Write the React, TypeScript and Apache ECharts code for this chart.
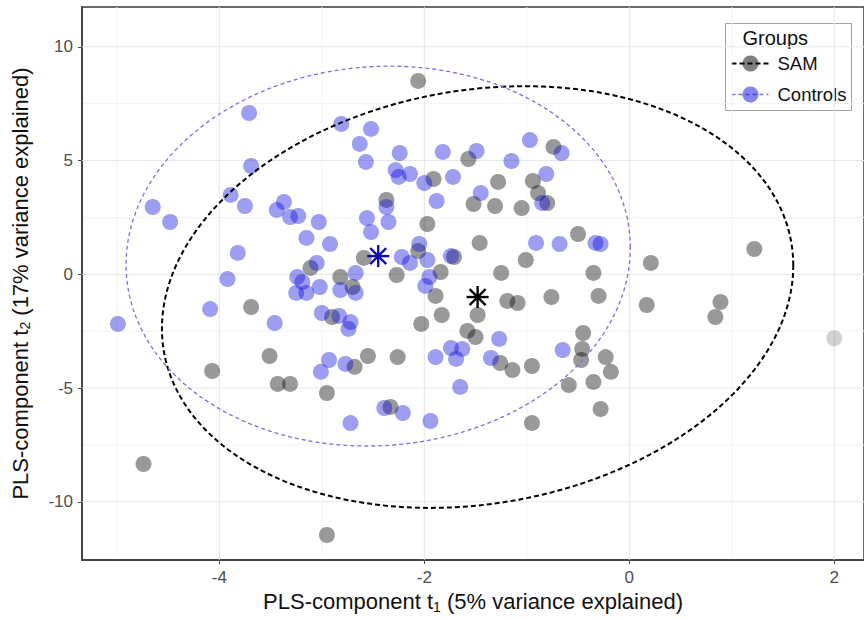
import React, { useEffect, useRef } from 'react';
import * as echarts from 'echarts';

// ---- Data ----
const samT1 = [
  -2.06, -1.57, -0.74, -1.28, -0.94, -0.89, -0.80, -1.52, -1.31, -1.05,
  -1.91, -2.37, -1.97, -1.46, -0.50, -1.01, -1.25, -1.84, -2.06, -2.59,
  -2.27, -2.82, -3.11, -2.70, -1.71, -1.19, -1.09, -0.76, -1.89, -1.83,
  -2.03, -1.48, -1.58, -1.50, -2.90, -2.55, -2.26, -2.68, -2.95, -2.33,
  -1.26, -1.14, -0.95, -0.95, -0.59, -0.35, -0.30, -0.45, -0.46, -0.47,
  -0.23, -0.18, -0.35, -0.28, 0.21, 0.17, 0.89, 0.84, 1.22, -3.69,
  -3.51, -4.07, -3.43, -3.31, -4.74, -2.95,
];
const samT2 = [
  8.50, 5.07, 5.60, 4.06, 4.10, 3.57, 3.13, 3.09, 3.00, 2.91,
  4.19, 3.27, 2.21, 1.38, 1.77, 0.63, 0.06, 0.10, 1.02, 0.72,
  -0.03, -0.12, 0.28, -0.56, 0.76, -1.17, -1.26, -1.00, -0.95, -1.79,
  -2.18, -1.79, -2.49, -2.76, -1.88, -3.59, -3.64, -4.07, -5.22, -5.83,
  -3.90, -4.21, -4.03, -6.54, -4.87, 0.06, -0.95, -2.58, -3.28, -3.77,
  -3.64, -4.29, -4.73, -5.92, 0.50, -1.35, -1.22, -1.88, 1.11, -1.44,
  -3.59, -4.25, -4.82, -4.82, -8.34, -11.46,
];
const controlsT1 = [
  -4.99, -4.65, -4.48, -3.71, -3.69, -3.89, -3.75, -3.44, -3.37, -3.31,
  -3.23, -3.15, -3.82, -3.92, -4.09, -3.46, -3.24, -3.19, -3.25, -3.15,
  -3.05, -3.02, -2.82, -2.67, -2.67, -3.03, -2.92, -2.81, -2.52, -2.63,
  -2.57, -2.24, -2.28, -2.25, -2.14, -2.00, -1.82, -1.72, -1.88, -1.49,
  -1.45, -0.97, -1.15, -0.66, -0.81, -0.85, -0.91, -0.68, -0.33, -0.28,
  -2.37, -2.35, -2.56, -2.52, -2.05, -2.22, -2.14, -1.97, -1.74, -1.95,
  -1.99, -3.00, -2.83, -2.72, -2.74, -2.93, -3.01, -2.77, -1.89, -1.74,
  -1.63, -1.69, -1.65, -1.94, -2.21, -2.39, -2.72, -1.27, -1.35, -0.65,
];
const controlsT2 = [
  -2.18, 2.96, 2.30, 7.09, 4.76, 3.49, 3.00, 2.83, 3.18, 2.52,
  2.56, 1.60, 0.94, -0.21, -1.53, -2.14, -0.12, -0.34, -0.82, -0.82,
  0.50, -0.56, -0.69, -0.82, 0.06, 2.30, 1.33, 6.61, 6.39, 5.73,
  4.94, 5.33, 4.58, 4.28, 4.41, 4.01, 5.38, 4.28, 3.22, 5.42,
  3.57, 5.90, 4.98, 5.33, 4.41, 3.13, 1.38, 1.33, 1.38, 1.33,
  2.96, 2.30, 2.47, 1.86, 1.33, 0.76, 0.50, 0.63, 0.80, -0.12,
  -0.51, -1.70, -1.83, -2.10, -2.40, -3.77, -4.29, -3.94, -3.64, -3.24,
  -3.28, -3.72, -4.95, -6.45, -6.10, -5.88, -6.54, -2.84, -3.68, -3.33,
];
// one faint point not assigned to either group
const otherT1 = [2.0];
const otherT2 = [-2.81];

// group centroids (asterisks)
const samCentroid = [-1.48, -1.0];
const controlsCentroid = [-2.45, 0.8];

// 95% ellipse parameters: [centre t1, centre t2, half-width, half-height, phase]
const samEllipse = [-1.48, -1.0, 3.08, 9.27, 1.421];
const controlsEllipse = [-2.45, 0.8, 2.46, 8.35, 1.526];

// axes
const xTicks = [-4, -2, 0, 2];
const yTicks = [-10, -5, 0, 5, 10];
const xMinorGrid = [-5, -3, -1, 1];
const yMinorGrid = [-7.5, -2.5, 2.5, 7.5];
const X_MIN = -5.34;
const X_MAX = 2.29;
const Y_MIN = -12.56;
const Y_MAX = 11.75;

const FONT = '"Liberation Sans", Arial, Helvetica, sans-serif';

const zip = (a: number[], b: number[]) => a.map((v, i) => [v, b[i]]);

function vLines(values: number[], color: string, width: number, z: number) {
  return {
    type: 'custom',
    silent: true,
    z,
    data: values.map((v) => [v, 0]),
    renderItem: (_p: any, api: any) => {
      const v = api.value(0);
      const a = api.coord([v, Y_MIN]);
      const b = api.coord([v, Y_MAX]);
      return { type: 'line', shape: { x1: a[0], y1: a[1], x2: b[0], y2: b[1] }, style: { stroke: color, lineWidth: width } };
    },
  };
}
function hLines(values: number[], color: string, width: number, z: number) {
  return {
    type: 'custom',
    silent: true,
    z,
    data: values.map((v) => [0, v]),
    renderItem: (_p: any, api: any) => {
      const v = api.value(1);
      const a = api.coord([X_MIN, v]);
      const b = api.coord([X_MAX, v]);
      return { type: 'line', shape: { x1: a[0], y1: a[1], x2: b[0], y2: b[1] }, style: { stroke: color, lineWidth: width } };
    },
  };
}
function ellipseSeries(p: number[], color: string, width: number, dash: number[]) {
  return {
    type: 'custom',
    silent: true,
    z: 5,
    data: [[p[0], p[1]]],
    renderItem: (_q: any, api: any) => {
      const [cx, cy, rx, ry, ph] = p;
      const pts: number[][] = [];
      const N = 240;
      for (let i = 0; i <= N; i++) {
        const t = (2 * Math.PI * i) / N;
        pts.push(api.coord([cx + rx * Math.cos(t), cy + ry * Math.cos(t - ph)]));
      }
      return { type: 'polyline', shape: { points: pts }, style: { stroke: color, lineWidth: width, lineDash: dash, fill: 'none' } };
    },
  };
}
function asteriskSeries(c: number[], color: string) {
  return {
    type: 'custom',
    silent: true,
    z: 6,
    data: [c],
    renderItem: (_q: any, api: any) => {
      const p = api.coord([api.value(0), api.value(1)]);
      const r = 11;
      const d = 8;
      const st = { stroke: color, lineWidth: 2.4 };
      return {
        type: 'group',
        children: [
          { type: 'line', shape: { x1: p[0], y1: p[1] - r, x2: p[0], y2: p[1] + r }, style: st },
          { type: 'line', shape: { x1: p[0] - r, y1: p[1], x2: p[0] + r, y2: p[1] }, style: st },
          { type: 'line', shape: { x1: p[0] - d, y1: p[1] - d, x2: p[0] + d, y2: p[1] + d }, style: st },
          { type: 'line', shape: { x1: p[0] - d, y1: p[1] + d, x2: p[0] + d, y2: p[1] - d }, style: st },
        ],
      };
    },
  };
}

const SAM_FILL = 'rgba(0,0,0,0.5)';
const CTRL_FILL = 'rgba(10,10,220,0.5)';
const CTRL_LINE = '#7b6fe8';

export default function App() {
  const ref = useRef<HTMLDivElement>(null);
  useEffect(() => {
    document.body.style.margin = '0';
    const chart = echarts.init(ref.current!, null, { renderer: 'svg' });
    const titleStyle = {
      fontSize: 22,
      color: '#111',
      fontFamily: FONT,
      rich: { sub: { fontSize: 14, color: '#111', fontFamily: FONT, padding: [10, 0, 0, 0] } },
    };
    chart.setOption({
      animation: false,
      backgroundColor: '#fff',
      grid: { left: 82, top: 7, right: -2, bottom: 59, show: true, borderColor: '#3a3a3a', borderWidth: 1.5, backgroundColor: '#fff' },
      xAxis: {
        type: 'value',
        min: X_MIN,
        max: X_MAX,
        splitLine: { show: false },
        axisLine: { show: true, onZero: false, lineStyle: { color: '#444', width: 2 } },
        axisTick: { show: true, length: 4, customValues: xTicks, lineStyle: { color: '#444' } },
        axisLabel: { customValues: xTicks, fontSize: 17, color: '#4d4d4d', fontFamily: FONT, margin: 9 },
        name: 'PLS-component t{sub|1} (5% variance explained)',
        nameLocation: 'middle',
        nameGap: 28,
        nameTextStyle: titleStyle,
      },
      yAxis: {
        type: 'value',
        min: Y_MIN,
        max: Y_MAX,
        splitLine: { show: false },
        axisLine: { show: true, onZero: false, lineStyle: { color: '#444', width: 2 } },
        axisTick: { show: true, length: 4, customValues: yTicks, lineStyle: { color: '#444' } },
        axisLabel: { customValues: yTicks, fontSize: 17, color: '#4d4d4d', fontFamily: FONT, margin: 9 },
        name: 'PLS-component t{sub|2} (17% variance explained)',
        nameLocation: 'middle',
        nameGap: 50,
        nameTextStyle: titleStyle,
      },
      series: [
        vLines(xMinorGrid, '#f3f3f3', 1, 0),
        hLines(yMinorGrid, '#f3f3f3', 1, 0),
        vLines(xTicks, '#e6e6e6', 1, 1),
        hLines(yTicks, '#e6e6e6', 1, 1),
        {
          type: 'scatter',
          name: 'SAM',
          z: 3,
          symbolSize: 16,
          itemStyle: { color: SAM_FILL, borderWidth: 0 },
          data: zip(samT1, samT2),
        },
        {
          type: 'scatter',
          name: 'Controls',
          z: 3,
          symbolSize: 16,
          itemStyle: { color: CTRL_FILL, borderWidth: 0 },
          data: zip(controlsT1, controlsT2),
        },
        {
          type: 'scatter',
          name: 'Other',
          z: 3,
          symbolSize: 16,
          itemStyle: { color: 'rgba(0,0,0,0.22)', borderWidth: 0 },
          data: zip(otherT1, otherT2),
        },
        ellipseSeries(samEllipse, '#000', 2, [5, 3]),
        ellipseSeries(controlsEllipse, CTRL_LINE, 1.3, [4, 3]),
        asteriskSeries(samCentroid, '#000'),
        asteriskSeries(controlsCentroid, '#1010a8'),
      ],
      graphic: [
        {
          type: 'group',
          left: 725,
          top: 23,
          z: 20,
          children: [
            { type: 'rect', shape: { x: 0, y: 0, width: 126, height: 87 }, style: { fill: '#fff', stroke: '#a8a098', lineWidth: 1 } },
            { type: 'text', style: { x: 17, y: 14, text: 'Groups', fontSize: 20, fontFamily: FONT, fill: '#111', verticalAlign: 'middle' } },
            { type: 'line', shape: { x1: 6, y1: 40, x2: 43, y2: 40 }, style: { stroke: '#000', lineWidth: 2, lineDash: [5, 3] } },
            { type: 'circle', shape: { cx: 25, cy: 40, r: 8 }, style: { fill: SAM_FILL } },
            { type: 'text', style: { x: 52, y: 40, text: 'SAM', fontSize: 18.5, fontFamily: FONT, fill: '#111', verticalAlign: 'middle' } },
            { type: 'line', shape: { x1: 6, y1: 71, x2: 43, y2: 71 }, style: { stroke: CTRL_LINE, lineWidth: 1.3, lineDash: [4, 3] } },
            { type: 'circle', shape: { cx: 25, cy: 71, r: 8 }, style: { fill: CTRL_FILL } },
            { type: 'text', style: { x: 52, y: 71, text: 'Controls', fontSize: 18.5, fontFamily: FONT, fill: '#111', verticalAlign: 'middle' } },
          ],
        },
      ],
    });
    return () => chart.dispose();
  }, []);
  return <div ref={ref} style={{ width: 864, height: 619 }} />;
}
